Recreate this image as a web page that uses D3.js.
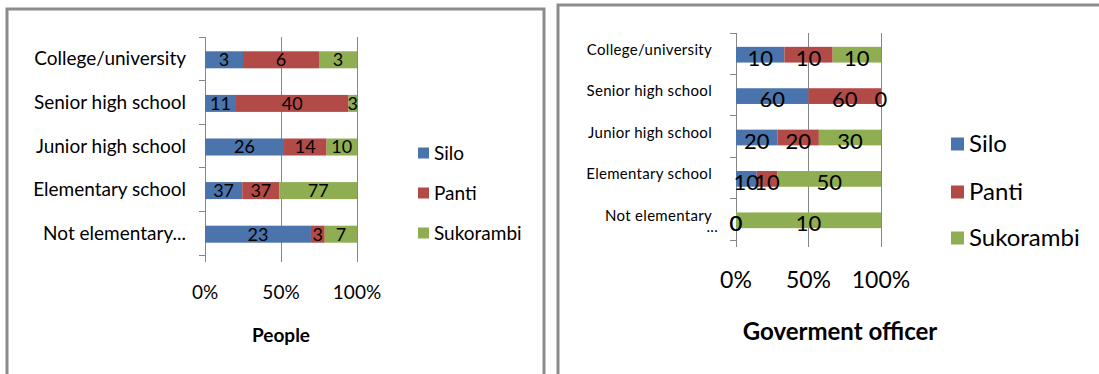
<!DOCTYPE html>
<html>
<head>
<meta charset="utf-8">
<script src="https://cdn.jsdelivr.net/npm/d3@7"></script>
<style>
  html, body { margin: 0; padding: 0; background: #fff; }
  svg { display: block; }
  text { font-family: Lato, "Open Sans", sans-serif; fill: #000; }
</style>
</head>
<body>
<svg id="chart" width="1099" height="374"></svg>
<script>
// Education level (top to bottom)
const categories = ["College/university", "Senior high school", "Junior high school", "Elementary school", "Not elementary..."];
const seriesNames = ["Silo", "Panti", "Sukorambi"];
const seriesColors = ["#4A74AB", "#B24A47", "#8FAE51"];
const tickLabels = ["0%", "50%", "100%"];
const tickValues = [0, 0.5, 1];

// People
const peopleSilo = [3, 11, 26, 37, 23];
const peoplePanti = [6, 40, 14, 37, 3];
const peopleSukorambi = [3, 3, 10, 77, 7];

// Goverment officer
const officerSilo = [10, 60, 20, 10, 0];
const officerPanti = [10, 60, 20, 10, 0];
const officerSukorambi = [10, 0, 30, 50, 10];

function rows(a, b, c) {
  return categories.map((cat, i) => ({ cat, Silo: a[i], Panti: b[i], Sukorambi: c[i] }));
}

const svg = d3.select("#chart");

// panel frames
svg.append("path").attr("d", "M7,380V9H544V380")
  .attr("fill", "none").attr("stroke", "#8c8c8c").attr("stroke-width", 3);
svg.append("path").attr("d", "M558,380V5H1102")
  .attr("fill", "none").attr("stroke", "#8c8c8c").attr("stroke-width", 3);

function drawPanel(data, o) {
  const g = svg.append("g");
  const x = d3.scaleLinear().domain([0, 1]).range([o.x0, o.x1]);
  const p = o.pad;
  const y = d3.scaleBand().domain(categories).range([o.yTop, o.yBot])
    .paddingInner(p).paddingOuter(p / 2);

  const stack = d3.stack().keys(seriesNames).offset(d3.stackOffsetExpand);
  const layers = stack(data);

  // vertical gridlines
  g.selectAll(".grid").data(tickValues).join("line")
    .attr("x1", d => x(d)).attr("x2", d => x(d))
    .attr("y1", o.yTop).attr("y2", o.yBot + 7)
    .attr("stroke", "#868686").attr("stroke-width", 1)
    .attr("shape-rendering", "crispEdges");

  // category axis with boundary ticks
  g.append("line").attr("x1", o.x0).attr("x2", o.x0)
    .attr("y1", o.yTop).attr("y2", o.yBot)
    .attr("stroke", "#868686").attr("shape-rendering", "crispEdges");
  const step = y.step();
  g.selectAll(".ytick").data(d3.range(categories.length + 1)).join("line")
    .attr("x1", o.x0 - 6).attr("x2", o.x0)
    .attr("y1", i => o.yTop + i * step).attr("y2", i => o.yTop + i * step)
    .attr("stroke", "#868686").attr("shape-rendering", "crispEdges");

  // bars
  layers.forEach((layer, si) => {
    g.selectAll(".bar" + si).data(layer).join("rect")
      .attr("x", d => x(d[0]))
      .attr("width", d => x(d[1]) - x(d[0]))
      .attr("y", d => y(d.data.cat) + o.barShift)
      .attr("height", y.bandwidth())
      .attr("fill", seriesColors[si]);
  });

  // value labels
  layers.forEach((layer, si) => {
    g.selectAll(".lab" + si).data(layer).join("text")
      .attr("x", d => x((d[0] + d[1]) / 2))
      .attr("y", d => y(d.data.cat) + o.barShift + y.bandwidth() / 2)
      .attr("dy", o.labelDy)
      .attr("text-anchor", "middle")
      .attr("font-size", o.labelSize)
      .text(d => d.data[seriesNames[si]]);
  });

  // category labels
  g.selectAll(".cat").data(categories).join("text")
    .attr("x", o.catX)
    .attr("y", d => y(d) + y.bandwidth() / 2 + o.catDy)
    .attr("dy", "0.35em")
    .attr("text-anchor", "end")
    .attr("font-size", o.catSize)
    .attr("letter-spacing", o.catSpacing)
    .each(function (d) {
      const t = d3.select(this);
      if (o.wrapEllipsis && d.endsWith("...")) {
        t.append("tspan").text(d.slice(0, -3));
        t.append("tspan").attr("x", o.catX + 6).attr("dy", "0.75em").text("...");
      } else {
        t.text(d);
      }
    });

  // percentage ticks
  g.selectAll(".xt").data(tickValues).join("text")
    .attr("x", d => x(d)).attr("y", o.tickY).attr("dy", "0.35em")
    .attr("text-anchor", "middle").attr("font-size", o.tickSize)
    .text((d, i) => tickLabels[i]);

  // axis title
  g.append("text").attr("x", o.titleX).attr("y", o.titleY).attr("dy", "0.35em")
    .attr("text-anchor", "middle").attr("font-size", o.titleSize)
    .attr("font-weight", "bold").text(o.title);

  // legend
  seriesNames.forEach((s, i) => {
    g.append("rect").attr("x", o.legX).attr("y", o.legY[i] - o.sq / 2)
      .attr("width", o.sq).attr("height", o.sq).attr("fill", seriesColors[i]);
    g.append("text").attr("x", o.legX + o.sq + 5).attr("y", o.legY[i])
      .attr("dy", "0.35em").attr("font-size", o.legSize).text(s);
  });
}

drawPanel(rows(peopleSilo, peoplePanti, peopleSukorambi), {
  x0: 205, x1: 357, yTop: 37, yBot: 255, pad: 0.61, barShift: 1,
  labelSize: 18, labelDy: "0.36em",
  catX: 186, catSize: 19, catDy: 0, catSpacing: 0, wrapEllipsis: false,
  tickY: 292, tickSize: 19,
  title: "People", titleX: 281, titleY: 335, titleSize: 19,
  legX: 418, legY: [153, 193, 233], sq: 11, legSize: 19
});

drawPanel(rows(officerSilo, officerPanti, officerSukorambi), {
  x0: 736, x1: 881, yTop: 33, yBot: 240, pad: 0.62, barShift: 1,
  labelSize: 22, labelDy: "0.5em",
  catX: 712, catSize: 15, catDy: -4, catSpacing: 0.3, wrapEllipsis: true,
  tickY: 280, tickSize: 23,
  title: "Goverment officer", titleX: 840, titleY: 332, titleSize: 24,
  legX: 951, legY: [144, 192, 238], sq: 13, legSize: 24
});
</script>
</body>
</html>
